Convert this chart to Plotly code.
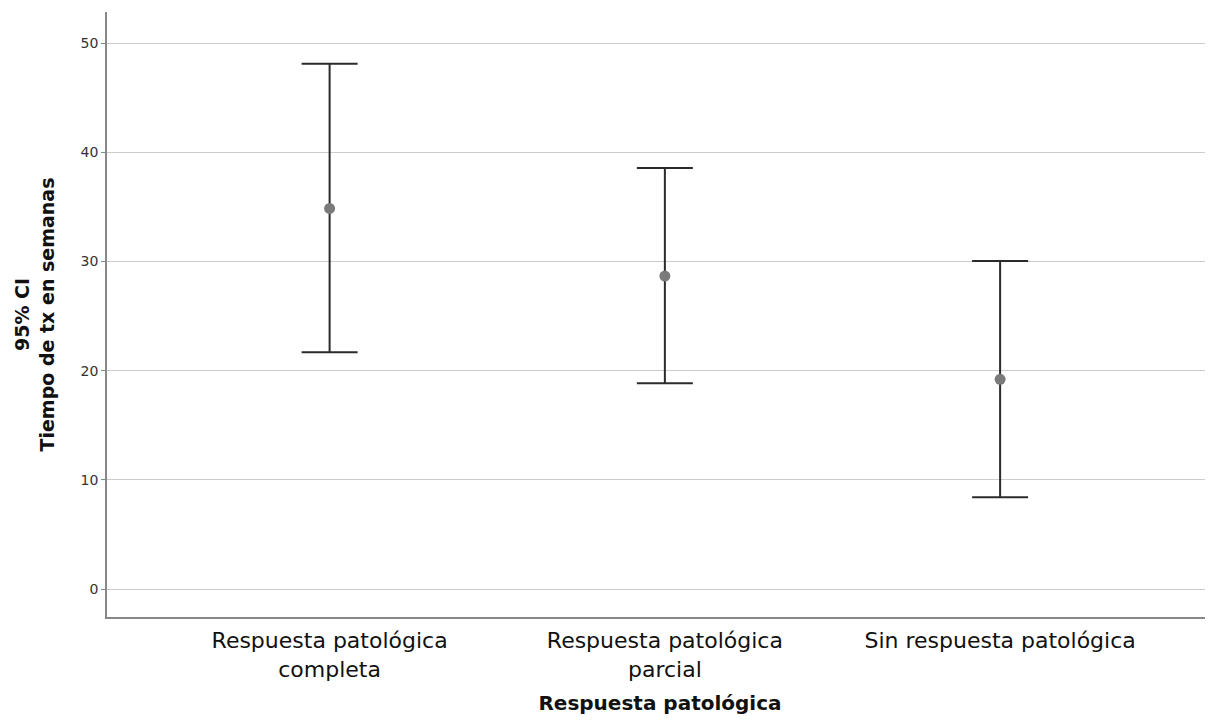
import plotly.graph_objects as go

categories = ["Respuesta patológica<br>completa", "Respuesta patológica<br>parcial", "Sin respuesta patológica"]
means = [34.85, 28.66, 19.20]
upper = [48.10, 38.56, 30.04]
lower = [21.68, 18.84, 8.40]

err_plus = [u - m for u, m in zip(upper, means)]
err_minus = [m - l for m, l in zip(means, lower)]

fig = go.Figure()
fig.add_trace(go.Scatter(
    x=categories, y=means, mode="markers",
    marker=dict(color="#7a7a7a", size=11),
    error_y=dict(type="data", symmetric=False, array=err_plus, arrayminus=err_minus,
                 color="#2b2b2b", thickness=2, width=28),
    showlegend=False,
))

font_family = "DejaVu Sans"
fig.update_layout(
    width=1205, height=707,
    margin=dict(l=99, r=0, t=4, b=98),
    plot_bgcolor="white", paper_bgcolor="white",
    font=dict(family=font_family, color="#222"),
    xaxis=dict(
        type="category", range=[-0.664, 2.635],
        showline=True, linecolor="#888", linewidth=1.5, mirror=False,
        showgrid=False, ticks="",
        tickfont=dict(size=22, color="#111"),
        ticklabelstandoff=3,
        automargin=False,
        title=dict(text="<b>Respuesta patológica</b>", font=dict(size=20, color="#111"), standoff=22),
    ),
    yaxis=dict(
        range=[-2.56, 52.84],
        tickvals=[0, 10, 20, 30, 40, 50],
        showline=True, linecolor="#888", linewidth=1.5,
        showgrid=True, gridcolor="#cccccc", gridwidth=1,
        zeroline=False,
        automargin=False,
        ticks="outside", ticklen=4, tickcolor="#888",
        tickfont=dict(size=14, color="#333"),
        title=dict(text="<b>95% CI<br>Tiempo de tx en semanas</b>", font=dict(size=19, color="#111"), standoff=21),
    ),
)

fig.write_html("out.html")
